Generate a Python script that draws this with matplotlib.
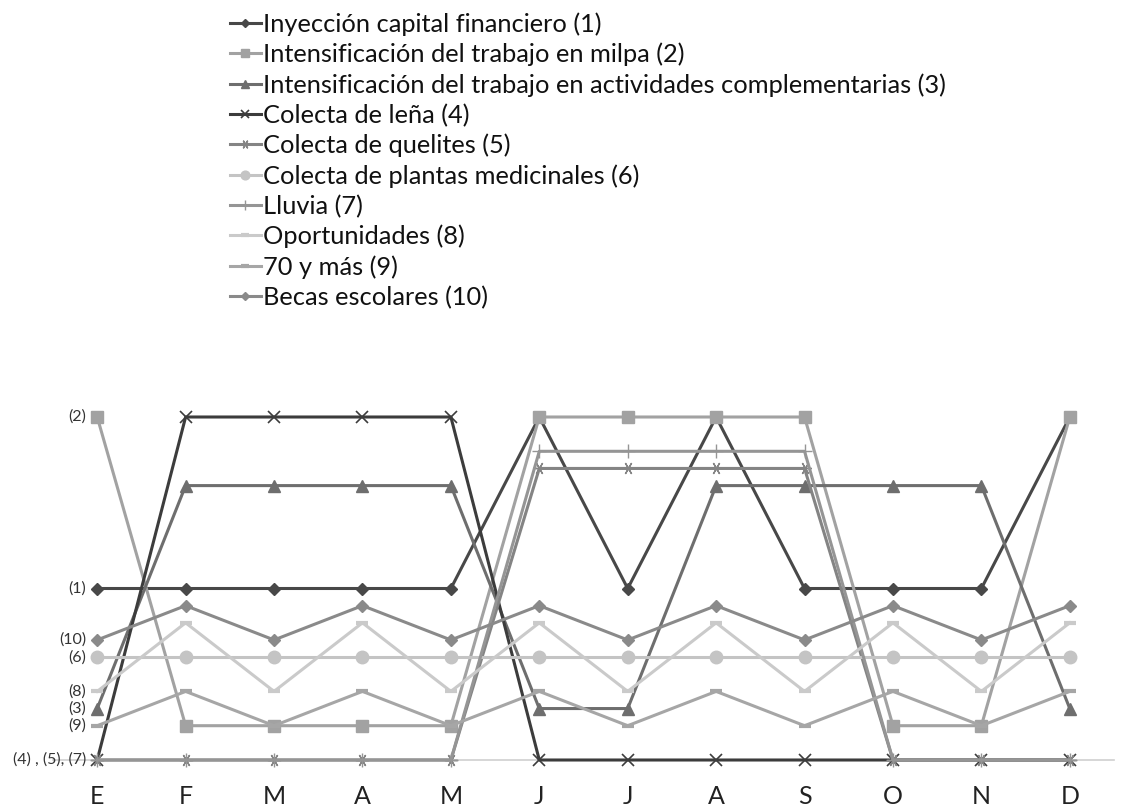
import matplotlib
matplotlib.use('Agg')
from matplotlib import pyplot as plt

plt.rcParams['font.family'] = ['Lato', 'DejaVu Sans']

months = ['E', 'F', 'M', 'A', 'M', 'J', 'J', 'A', 'S', 'O', 'N', 'D']

names = ['Inyección capital financiero (1)',
         'Intensificación del trabajo en milpa (2)',
         'Intensificación del trabajo en actividades complementarias (3)',
         'Colecta de leña (4)',
         'Colecta de quelites (5)',
         'Colecta de plantas medicinales (6)',
         'Lluvia (7)',
         'Oportunidades (8)',
         '70 y más (9)',
         'Becas escolares (10)']

capital    = [5, 5, 5, 5, 5, 10, 5, 10, 5, 5, 5, 10]
milpa      = [10, 1, 1, 1, 1, 10, 10, 10, 10, 1, 1, 10]
complem    = [1.5, 8, 8, 8, 8, 1.5, 1.5, 8, 8, 8, 8, 1.5]
lena       = [0, 10, 10, 10, 10, 0, 0, 0, 0, 0, 0, 0]
quelites   = [0, 0, 0, 0, 0, 8.5, 8.5, 8.5, 8.5, 0, 0, 0]
medicinal  = [3, 3, 3, 3, 3, 3, 3, 3, 3, 3, 3, 3]
lluvia     = [0, 0, 0, 0, 0, 9, 9, 9, 9, 0, 0, 0]
oportun    = [2, 4, 2, 4, 2, 4, 2, 4, 2, 4, 2, 4]
setenta    = [1, 2, 1, 2, 1, 2, 1, 2, 1, 2, 1, 2]
becas      = [3.5, 4.5, 3.5, 4.5, 3.5, 4.5, 3.5, 4.5, 3.5, 4.5, 3.5, 4.5]

# labels written next to the first month
start_labels = ['(2)', '(1)', '(10)', '(6)', '(8)', '(3)', '(9)', '(4) , (5), (7)']
start_values = [10, 5, 3.5, 3, 2, 1.5, 1, 0]

series = [capital, milpa, complem, lena, quelites, medicinal, lluvia, oportun, setenta, becas]
colors = ['#484848', '#a2a2a2', '#6e6e6e', '#3c3c3c', '#848484',
          '#c4c4c4', '#959595', '#cacaca', '#a6a6a6', '#8a8a8a']
markers = ['D', 's', '^', 'x', (6, 2, 90), 'o', '+', '_', '_', 'D']
msizes = [6, 8, 8, 8, 9, 9, 10, 9, 9, 6]
mews = [1, 1, 1, 1.2, 1.0, 1, 1.0, 3, 3, 1]

fig = plt.figure(figsize=(11.21, 8.10), dpi=100)
ax = fig.add_axes([53/1121, 50/810, (1114-53)/1121, 343/810])

x = list(range(len(months)))
for i in range(len(series)):
    ax.plot(x, series[i], color=colors[i], lw=2.2, marker=markers[i],
            markersize=msizes[i], markeredgewidth=mews[i],
            markeredgecolor=colors[i], markerfacecolor=colors[i],
            label=names[i], clip_on=False)

ax.set_xlim(-0.5, 11.5)
ax.set_ylim(0, 10)
for s in ['top', 'right', 'left']:
    ax.spines[s].set_visible(False)
ax.spines['bottom'].set_color('#cfcfcf')
ax.spines['bottom'].set_linewidth(1.2)
ax.spines['bottom'].set_zorder(0)
ax.set_yticks([])
ax.set_xticks(x)
ax.set_xticklabels(months, fontsize=18, color='#222222')
ax.tick_params(axis='x', length=0, pad=18)

for lab, v in zip(start_labels, start_values):
    ax.annotate(lab, (0, v), xytext=(-8, 0), textcoords='offset points',
                ha='right', va='center', fontsize=11.5, color='#333333')

fig.legend(loc='upper left', bbox_to_anchor=(220/1121, 1 - 2/810), frameon=False,
           fontsize=18.3, handlelength=1.2, handletextpad=0.1, labelspacing=0.27,
           borderaxespad=0, labelcolor='#111111', markerscale=0.7)

fig.savefig('out.png', dpi=100)
